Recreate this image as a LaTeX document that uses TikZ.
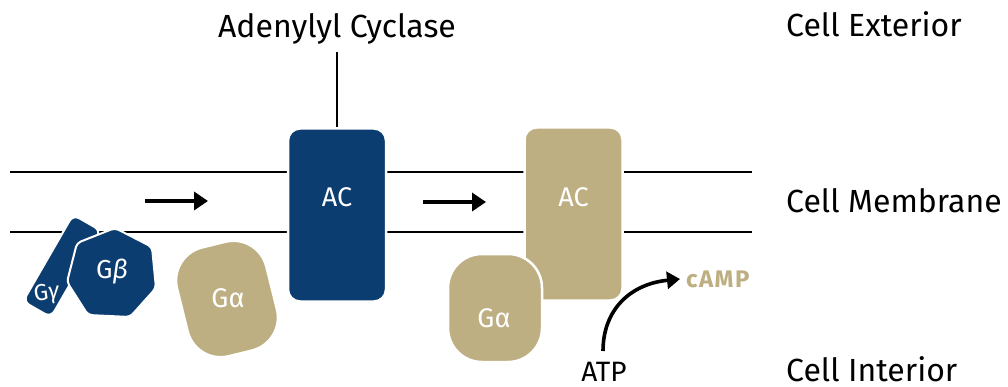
\documentclass[tikz,border=0pt]{standalone}
\usepackage{fontspec}
\setmainfont{Fira Sans}
\usetikzlibrary{arrows.meta}
\definecolor{navy}{RGB}{12,61,112}
\definecolor{tanc}{RGB}{190,175,130}
\begin{document}
\begin{tikzpicture}[x=1pt,y=-1pt,
  lbl/.style={font=\fontsize{32}{36}\selectfont, inner sep=0pt},
  memb/.style={line width=2.6pt, black},
  acbox/.style={draw=white, line width=2.5pt, rounded corners=12pt, minimum width=98pt, minimum height=173pt},
  prot/.style={draw=white, line width=2pt},
  wt/.style={text=white, font=\fontsize{27}{30}\selectfont, inner sep=0pt},
  wtb/.style={text=white, font=\fontsize{26}{30}\selectfont, inner sep=0pt},
  wts/.style={text=white, font=\fontsize{23}{26}\selectfont, inner sep=0pt},
  ga/.style={draw=white, line width=2.5pt, fill=tanc, rounded corners=34pt},
  movearrow/.style={line width=3.6pt, -{Triangle[length=14pt,width=18pt]}}]
\useasboundingbox (0,0) rectangle (1008,387);
% membrane
\draw[memb] (10,172) -- (752,172);
\draw[memb] (10,232) -- (752,232);
% labels
\node[lbl, anchor=base] (adcy) at (337,38) {Adenylyl Cyclase};
\node[lbl, anchor=base west] (ext) at (786,37) {Cell Exterior};
\node[lbl, anchor=base west] (mem) at (786,213) {Cell Membrane};
\node[lbl, anchor=base west] (int) at (786,381) {Cell Interior};
% G gamma and G beta
\draw[prot, fill=navy, rounded corners=7pt] (73.1,214.7) -- (100.9,230.7) -- (50.9,317.3) -- (23.1,301.3) -- cycle;
\node[wts, rotate=8] (gg) at (47,294) {G\textit{γ}};
\draw[prot, fill=navy, rounded corners=4pt] (77,243) -- (115,228) -- (152,247) -- (156,288) -- (130,317) -- (88,315) -- (67,282) -- cycle;
\node[wtb] (gb) at (112,272) {G\textit{β}};
% arrows
\coordinate (a1s) at (145,201); \coordinate (a1e) at (208,201);
\draw[movearrow] (a1s) -- (a1e);
\coordinate (a2s) at (423,202); \coordinate (a2e) at (486,202);
\draw[movearrow] (a2s) -- (a2e);
% left G alpha
\node[ga, rotate=14, minimum width=92pt, minimum height=112pt] (gal) at (227,299) {};
\node[wt] (galt) at (228,298) {Gα};
% AC dark
\node[acbox, fill=navy] (acl) at (337,215) {};
\node[wt, anchor=base] (aclt) at (337,207) {AC};
\draw[line width=1.3pt] (acl.north) -- (337,52) coordinate (adcyb);
% AC tan
\node[acbox, fill=tanc] (acr) at (573.5,214) {};
\node[wt, anchor=base] (acrt) at (573.5,207) {AC};
% right G alpha
\node[ga, minimum width=94pt, minimum height=108pt] (gar) at (495,308) {};
\node[wt] (gart) at (494,318) {Gα};
% ATP -> cAMP
\node[font=\fontsize{28}{32}\selectfont, inner sep=0pt, anchor=base] (atp) at (604,381) {ATP};
\node[font=\bfseries\fontsize{24}{28}\selectfont\addfontfeature{LetterSpace=6}, text=tanc, anchor=base west, inner sep=0pt] (camp) at (686,287) {cAMP};
\coordinate (atpt) at (603,351);
\coordinate (campw) at (680,279);
\draw[line width=3.6pt, -{Triangle[length=13pt,width=17pt]}] (atpt) .. controls (603,310) and (630,284) .. (campw);
\end{tikzpicture}
\end{document}
